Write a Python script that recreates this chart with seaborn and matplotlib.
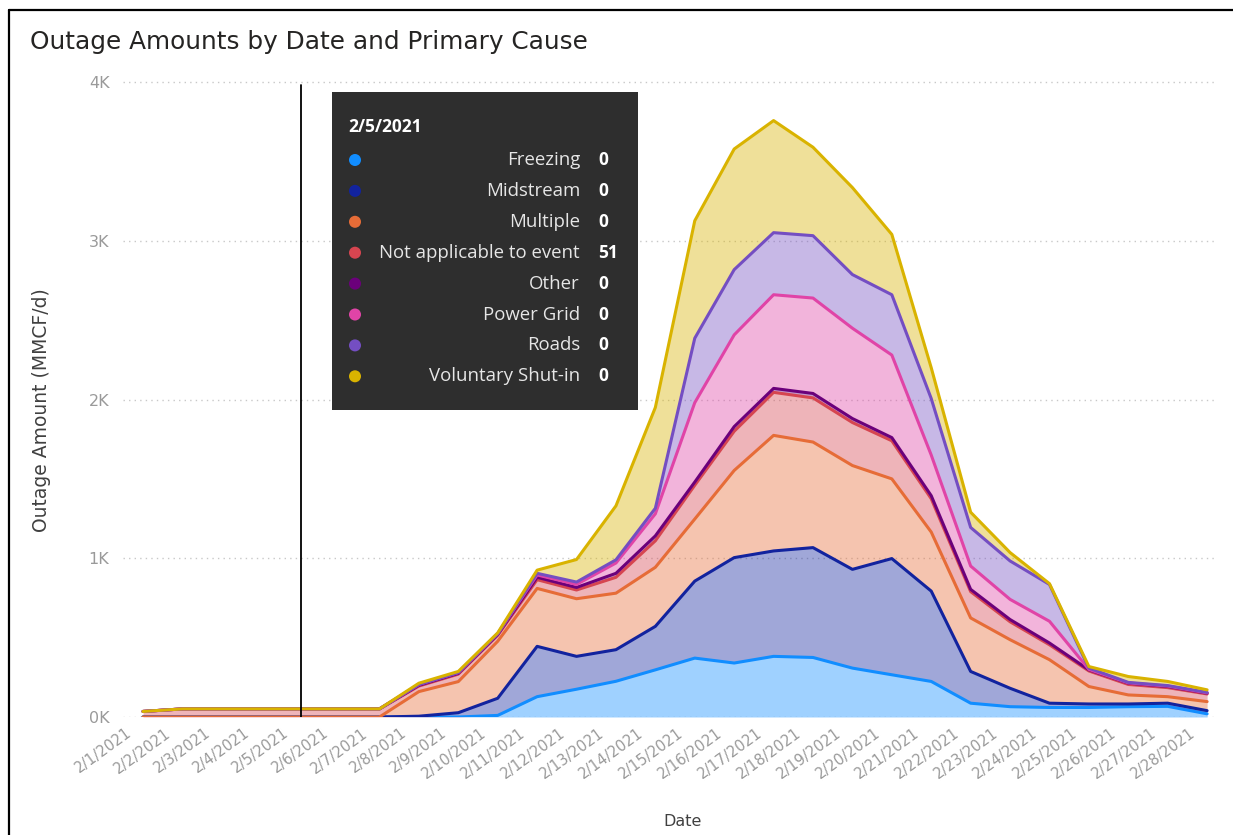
import numpy as np
import pandas as pd
import matplotlib
matplotlib.use("Agg")
import matplotlib.pyplot as plt
import matplotlib.transforms as mtransforms
import seaborn as sns
from matplotlib.patches import Rectangle

# dates on the category axis
dates = ['2/1/2021', '2/2/2021', '2/3/2021', '2/4/2021', '2/5/2021', '2/6/2021', '2/7/2021',
         '2/8/2021', '2/9/2021', '2/10/2021', '2/11/2021', '2/12/2021', '2/13/2021', '2/14/2021',
         '2/15/2021', '2/16/2021', '2/17/2021', '2/18/2021', '2/19/2021', '2/20/2021', '2/21/2021',
         '2/22/2021', '2/23/2021', '2/24/2021', '2/25/2021', '2/26/2021', '2/27/2021', '2/28/2021']

# outage amount per primary cause (MMCF/d)
freezing = [0, 0, 0, 0, 0, 0, 0, 0, 0, 10, 128, 175, 225, 297, 371, 340, 382, 375, 308, 266,
            224, 87, 65, 60, 60, 65, 67, 20]
midstream = [0, 0, 0, 0, 0, 0, 0, 5, 27, 108, 317, 207, 199, 274, 485, 664, 664, 692, 622, 732,
             569, 200, 116, 27, 22, 17, 20, 20]
multiple = [0, 0, 0, 0, 0, 0, 0, 155, 196, 359, 365, 363, 356, 372, 391, 549, 728, 665, 654, 502,
            372, 337, 306, 274, 110, 57, 41, 57]
not_applicable = [35, 51, 51, 51, 51, 51, 51, 35, 47, 38, 55, 55, 100, 167, 213, 247, 271, 278,
                  271, 240, 210, 166, 113, 94, 98, 66, 57, 48]
other = [0, 0, 0, 0, 0, 0, 0, 5, 5, 5, 15, 16, 25, 31, 20, 29, 25, 28, 25, 20, 19, 14, 14, 11,
         7, 8, 7, 5]
power_grid = [0, 0, 0, 0, 0, 0, 0, 5, 5, 5, 15, 19, 65, 139, 500, 578, 590, 601, 569, 520, 256,
              147, 127, 137, 3, 2, 3, 2]
roads = [0, 0, 0, 0, 0, 0, 0, 0, 0, 0, 10, 15, 20, 35, 406, 411, 391, 393, 338, 380, 356, 243,
         242, 232, 8, 3, 3, 3]
voluntary = [0, 0, 0, 0, 0, 0, 0, 8, 7, 5, 20, 142, 340, 635, 740, 760, 706, 557, 548, 380, 194,
             96, 53, 5, 10, 37, 26, 16]

causes = ['Freezing', 'Midstream', 'Multiple', 'Not applicable to event', 'Other',
          'Power Grid', 'Roads', 'Voluntary Shut-in']
colors = ['#118DFF', '#12239E', '#E66C37', '#D64550', '#6B007B', '#E044A7', '#744EC2', '#D9B300']
hover_idx = 4  # 2/5/2021

df = pd.DataFrame(dict(zip(causes, [freezing, midstream, multiple, not_applicable, other,
                                    power_grid, roads, voluntary])))
df.index = dates
stack = df.cumsum(axis=1)
xs = np.arange(len(dates))

sns.set_theme(style="white")
plt.rcParams['font.family'] = ['DejaVu Sans']

W, H = 1233, 835
fig = plt.figure(figsize=(W / 100, H / 100), dpi=100)
y0_px, y4k_px = 717, 82
ppu = (y0_px - y4k_px) / 4000
ytop = 4020
top_px = y0_px - ytop * ppu
left_px, right_px = 123.3, 1215
ax = fig.add_axes([left_px / W, 1 - y0_px / H, (right_px - left_px) / W, (y0_px - top_px) / H])

# stacked areas
prev = np.zeros(len(dates))
for cause, c in zip(causes, colors):
    cur = stack[cause].values
    ax.fill_between(xs, prev, cur, color=c, alpha=0.4, linewidth=0, zorder=2)
    prev = cur
for cause, c in zip(causes, colors):
    sns.lineplot(x=xs, y=stack[cause].values, color=c, linewidth=2.2, ax=ax, zorder=3)

ax.set_xlim(-0.5, 27.2)
ax.set_ylim(0, ytop)
ax.set_yticks([0, 1000, 2000, 3000, 4000])
ax.set_yticklabels(['0K', '1K', '2K', '3K', '4K'])
ax.yaxis.grid(True, linestyle=(0, (1, 3)), color='#c8c8c8', linewidth=1, zorder=0)
ax.set_axisbelow(True)
for s in ax.spines.values():
    s.set_visible(False)
ax.tick_params(axis='y', length=0, pad=10, labelsize=11.5, labelcolor='#9a9a9a')
ax.set_xticks(xs)
ax.set_xticklabels(dates, rotation=36, ha='right', rotation_mode='anchor')
ax.tick_params(axis='x', length=0, pad=6, labelsize=10.5, labelcolor='#9a9a9a')
shift = mtransforms.ScaledTranslation(-18 / 100, 0, fig.dpi_scale_trans)
for lab in ax.get_xticklabels():
    lab.set_transform(lab.get_transform() + shift)
ax.set_xlabel('')
ax.set_ylabel('')

# hover line
ax.axvline(hover_idx, ymin=0, ymax=(y0_px - 85) / (y0_px - top_px), color='black', lw=1.3, zorder=5)

# overlay in pixel coordinates for title, frame and tooltip
ov = fig.add_axes([0, 0, 1, 1])
ov.set_xlim(0, W)
ov.set_ylim(H, 0)
ov.axis('off')

ov.plot([9, W], [10, 10], color='black', lw=1.6)
ov.plot([9, 9], [10, H], color='black', lw=1.6)
ov.text(30, 42, 'Outage Amounts by Date and Primary Cause', fontsize=17.8, color='#252423',
        ha='left', va='center')
ov.text(42, 410, 'Outage Amount (MMCF/d)', fontsize=13.5, color='#404040', rotation=90,
        ha='center', va='center')
ov.text(683, 822, 'Date', fontsize=11.5, color='#404040', ha='center', va='center')

ov.add_patch(Rectangle((332, 92), 306, 318, facecolor='#2e2e2e', edgecolor='none', zorder=6))
tip_font = ['Open Sans', 'DejaVu Sans']
ov.text(348, 127, dates[hover_idx], fontsize=12.5, fontweight='bold', color='white',
        ha='left', va='center', family=tip_font, zorder=7)
for k, (cause, c) in enumerate(zip(causes, colors)):
    yy = 160 + k * 30.9
    ov.scatter([355], [yy], s=75, color=c, edgecolor='none', zorder=7)
    ov.text(580, yy, cause, fontsize=13.4, color='#e6e6e6', ha='right', va='center',
            family=tip_font, zorder=7)
    ov.text(598, yy, f"{df[cause].iloc[hover_idx]:.0f}", fontsize=12.5, fontweight='bold',
            color='white', ha='left', va='center', family=tip_font, zorder=7)

fig.savefig('out.png', dpi=100)
